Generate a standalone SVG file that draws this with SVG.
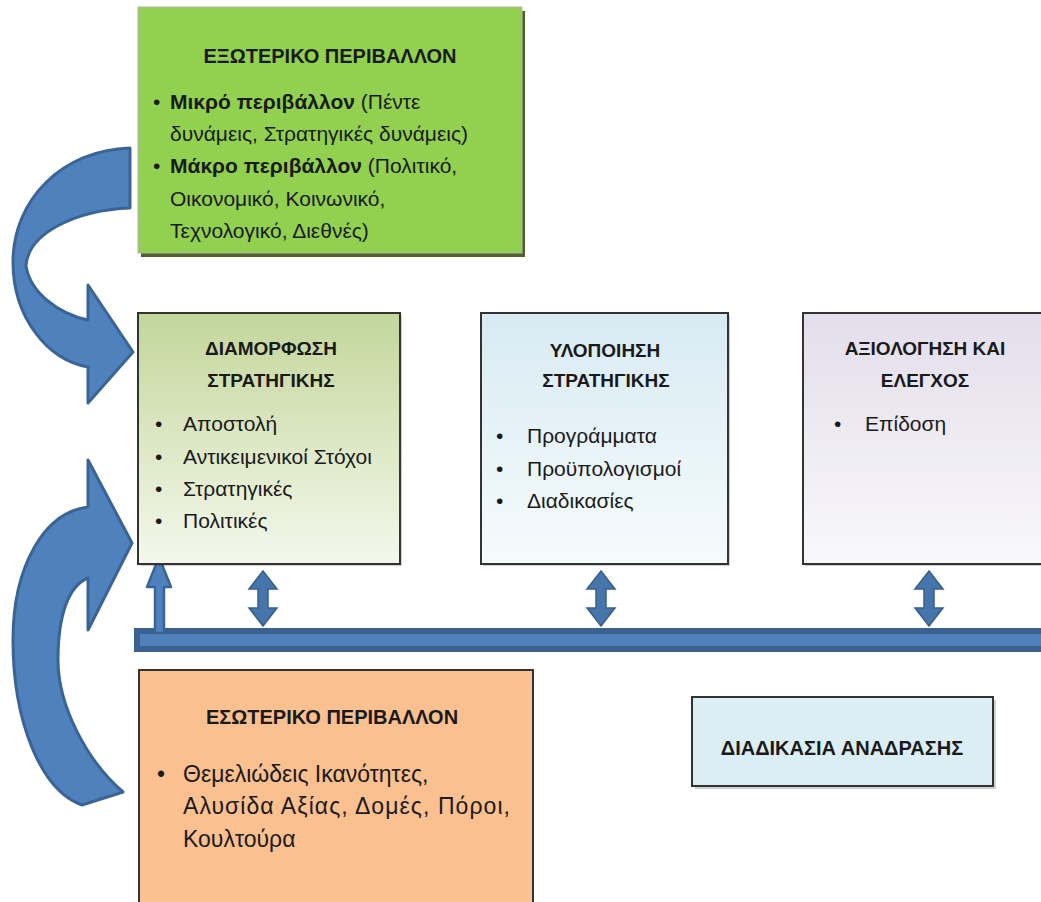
<svg xmlns="http://www.w3.org/2000/svg" width="1041" height="902" viewBox="0 0 1041 902">
<defs>
<linearGradient id="gGreen" x1="0" y1="0" x2="0" y2="1"><stop offset="0" stop-color="#c3d69b"/><stop offset="1" stop-color="#f4f8ec"/></linearGradient>
<linearGradient id="gBlue" x1="0" y1="0" x2="0" y2="1"><stop offset="0" stop-color="#d7ebf2"/><stop offset="1" stop-color="#f6fbfd"/></linearGradient>
<linearGradient id="gPurple" x1="0" y1="0" x2="0" y2="1"><stop offset="0" stop-color="#e3deeb"/><stop offset="1" stop-color="#f9f8fb"/></linearGradient>
<style>
text{font-family:"Liberation Sans",Arial,sans-serif;fill:#1a1a1a}
.t{font-size:19px;font-weight:bold;text-anchor:middle}
.tl{font-size:20px;font-weight:bold;text-anchor:middle}
.b{font-size:21px}
.bo{font-size:23px}
.box{stroke:#333;stroke-width:2}
.sh{fill:#000;opacity:.18}
.arrow{fill:#4f81bd;stroke:#3a6496;stroke-width:3;stroke-linejoin:round}
.dbl{fill:#4675ac;stroke:#385d8a;stroke-width:1.5}
</style>
</defs>

<g id="connectors">
<path class="arrow" d="M130,148 C62,150 13,200 13,262 C13,318 48,360 88,367 L88,403 L133,352 L88,285 L88,320 C58,314 30,292 26,266 C28,232 78,210 130,208 Z"/>
<path class="arrow" d="M88,507 C45,512 13,565 13,640 C13,720 40,790 82,805 L123,792 C86,760 58,705 58,660 C58,612 70,585 88,578 L88,630 L132,543 L88,460 Z"/>
<rect x="137" y="631" width="910" height="18" fill="#4f81bd" stroke="#3a6190" stroke-width="6"/>
<path class="arrow" style="stroke-width:2.5" d="M155,633 L155,587 L147,587 L159,557 L171,587 L164,587 L164,633 Z"/>
<path class="dbl" d="M263,571 L277,589 L268,589 L268,608 L277,608 L263,626 L249,608 L258,608 L258,589 L249,589 Z"/>
<path class="dbl" d="M601,571 L615,589 L606,589 L606,608 L615,608 L601,626 L587,608 L596,608 L596,589 L587,589 Z"/>
<path class="dbl" d="M929,571 L943,589 L934,589 L934,608 L943,608 L929,626 L915,608 L924,608 L924,589 L915,589 Z"/>
</g>

<g id="external">
<rect x="141" y="11" width="384" height="246" fill="#4f6228"/>
<rect x="138" y="7" width="384" height="246" fill="#92d050" stroke="#b5b5b5" stroke-width="1"/>
<text class="tl" x="330" y="63">ΕΞΩΤΕΡΙΚΟ ΠΕΡΙΒΑΛΛΟΝ</text>
<text class="b" x="153" y="109">•</text>
<text class="b" x="170" y="109"><tspan font-weight="bold">Μικρό περιβάλλον</tspan> (Πέντε</text>
<text class="b" x="170" y="141">δυνάμεις, Στρατηγικές δυνάμεις)</text>
<text class="b" x="153" y="173">•</text>
<text class="b" x="170" y="173"><tspan font-weight="bold">Μάκρο περιβάλλον</tspan> (Πολιτικό,</text>
<text class="b" x="170" y="206">Οικονομικό, Κοινωνικό,</text>
<text class="b" x="170" y="238">Τεχνολογικό, Διεθνές)</text>
</g>

<g id="formulation">
<rect x="140" y="315" width="262" height="251" class="sh"/>
<rect x="138" y="313" width="262" height="251" fill="url(#gGreen)" class="box"/>
<text class="t" x="271" y="355">ΔΙΑΜΟΡΦΩΣΗ</text>
<text class="t" x="271" y="387">ΣΤΡΑΤΗΓΙΚΗΣ</text>
<text class="b" x="155" y="431">•</text><text class="b" x="183" y="431">Αποστολή</text>
<text class="b" x="155" y="464">•</text><text class="b" x="183" y="464">Αντικειμενικοί Στόχοι</text>
<text class="b" x="155" y="496">•</text><text class="b" x="183" y="496">Στρατηγικές</text>
<text class="b" x="155" y="528">•</text><text class="b" x="183" y="528">Πολιτικές</text>
</g>

<g id="implementation">
<rect x="483" y="315" width="247" height="251" class="sh"/>
<rect x="481" y="313" width="247" height="251" fill="url(#gBlue)" class="box"/>
<text class="t" x="605" y="357">ΥΛΟΠΟΙΗΣΗ</text>
<text class="t" x="606" y="387">ΣΤΡΑΤΗΓΙΚΗΣ</text>
<text class="b" x="496" y="443">•</text><text class="b" x="527" y="443">Προγράμματα</text>
<text class="b" x="496" y="476">•</text><text class="b" x="527" y="476">Προϋπολογισμοί</text>
<text class="b" x="496" y="508">•</text><text class="b" x="527" y="508">Διαδικασίες</text>
</g>

<g id="evaluation">
<rect x="805" y="315" width="250" height="251" class="sh"/>
<rect x="803" y="313" width="250" height="251" fill="url(#gPurple)" class="box"/>
<text class="t" x="925" y="355">ΑΞΙΟΛΟΓΗΣΗ ΚΑΙ</text>
<text class="t" x="925" y="387">ΕΛΕΓΧΟΣ</text>
<text class="b" x="834" y="431">•</text><text class="b" x="865" y="431">Επίδοση</text>
</g>

<g id="internal">
<rect x="139" y="670" width="394" height="250" fill="#fac090" class="box"/>
<text class="tl" x="332" y="724">ΕΣΩΤΕΡΙΚΟ ΠΕΡΙΒΑΛΛΟΝ</text>
<text class="bo" x="157" y="782">•</text>
<text class="bo" x="183" y="782">Θεμελιώδεις Ικανότητες,</text>
<text class="bo" x="183" y="814" textLength="327" lengthAdjust="spacing">Αλυσίδα Αξίας, Δομές, Πόροι,</text>
<text class="bo" x="183" y="847">Κουλτούρα</text>
</g>

<g id="feedback">
<rect x="695" y="700" width="301" height="89" class="sh"/>
<rect x="692" y="697" width="301" height="89" fill="#dbeef4" class="box"/>
<text class="tl" x="842" y="755">ΔΙΑΔΙΚΑΣΙΑ ΑΝΑΔΡΑΣΗΣ</text>
</g>
</svg>
